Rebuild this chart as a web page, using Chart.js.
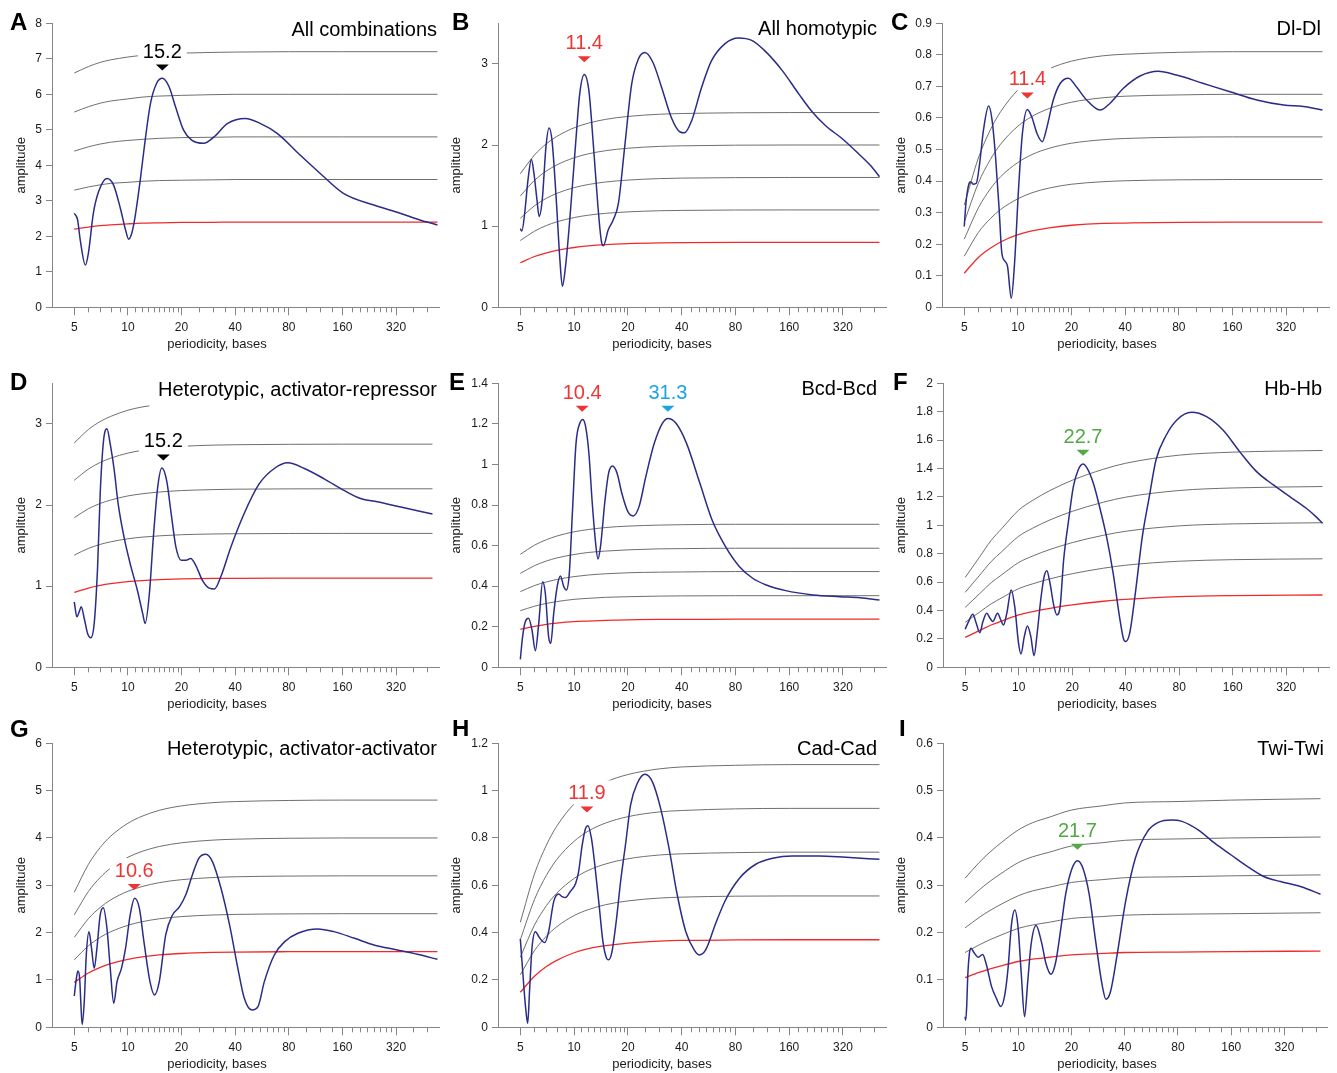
<!DOCTYPE html>
<html>
<head>
<meta charset="utf-8">
<title>Periodicity spectra</title>
<script src="https://cdn.jsdelivr.net/npm/chart.js@4.4.1/dist/chart.umd.min.js"></script>
<style>
  html, body { margin: 0; padding: 0; background: #fff; overflow: hidden; }
  #page { position: relative; width: 1337px; height: 1073px; }
  .panel { position: absolute; }
</style>
</head>
<body>
<div id="page"></div>
<script>
"use strict";

// ---------- data ----------
const xMajorTicks = [5, 10, 20, 40, 80, 160, 320];
const xMinorTicks = [6, 7, 8, 9, 11, 12, 13, 14, 15, 16, 17, 18, 19, 25, 30, 35,
    45, 50, 55, 60, 65, 70, 75, 100, 120, 140, 180, 200, 220, 240, 260, 280, 300, 400, 480];

const thresholdPeriods = [5, 6, 7, 8, 10, 12, 15, 20, 30, 40, 80, 160, 512];
const thresholdPeriodsLong = [5, 6, 7, 8, 10, 12, 15, 20, 30, 40, 80, 160, 546];
const topThresholdPeriodsD = [5, 6, 7, 8, 10, 12, 13.2];

// A - All combinations
const periodsA = [5, 5.22, 5.4, 5.77, 6.0, 6.4, 6.85, 7.63, 8.3, 9.07, 9.7, 10.1, 10.5, 10.9, 11.7, 12.5, 13.4, 14.5, 15.6, 17.0, 18.5, 20.5, 22.8, 26.6, 30.4, 36.3, 45.6, 55.2, 68.8, 92.5, 120, 162, 240, 337, 435, 546];
const ampsA = [2.65, 2.46, 1.9, 1.19, 1.52, 2.65, 3.26, 3.63, 3.45, 2.79, 2.18, 1.92, 2.08, 2.46, 3.54, 4.71, 5.75, 6.31, 6.45, 6.22, 5.65, 5.0, 4.71, 4.62, 4.8, 5.18, 5.32, 5.18, 4.9, 4.29, 3.77, 3.21, 2.88, 2.65, 2.46, 2.32];
const thresholdsA = [
    [2.20, 2.26, 2.30, 2.32, 2.35, 2.37, 2.38, 2.39, 2.395, 2.4, 2.4, 2.4, 2.4],
    [3.30, 3.39, 3.45, 3.49, 3.52, 3.55, 3.57, 3.58, 3.59, 3.6, 3.6, 3.6, 3.6],
    [4.40, 4.52, 4.60, 4.65, 4.70, 4.73, 4.76, 4.78, 4.79, 4.8, 4.8, 4.8, 4.8],
    [5.50, 5.65, 5.75, 5.81, 5.87, 5.92, 5.95, 5.97, 5.99, 6.0, 6.0, 6.0, 6.0],
    [6.60, 6.78, 6.90, 6.97, 7.05, 7.10, 7.14, 7.16, 7.18, 7.19, 7.2, 7.2, 7.2],
];
const marksA = [[15.6, "15.2", 6.67]];
const yTicksA = [0, 1, 2, 3, 4, 5, 6, 7, 8];

// B - All homotypic
const periodsB = [5, 5.1, 5.29, 5.52, 5.77, 5.96, 6.2, 6.37, 6.63, 6.96, 7.24, 7.52, 7.95, 8.33, 8.6, 8.95, 9.45, 10.2, 10.75, 11.4, 12.1, 12.8, 13.6, 14.2, 14.6, 15.5, 16.5, 17.7, 19.2, 21.0, 22.9, 24.9, 27.6, 30.9, 35.0, 39.2, 41.5, 45.5, 51.7, 58.8, 70.0, 83.1, 98.7, 117, 146, 181, 215, 255, 316, 392, 455, 512];
const ampsB = [0.97, 0.94, 1.16, 1.57, 1.82, 1.65, 1.32, 1.12, 1.32, 1.98, 2.21, 2.06, 1.32, 0.58, 0.26, 0.5, 1.07, 2.02, 2.63, 2.87, 2.67, 2.02, 1.24, 0.82, 0.76, 0.95, 1.07, 1.28, 1.98, 2.75, 3.06, 3.14, 3.02, 2.71, 2.34, 2.16, 2.15, 2.30, 2.71, 3.04, 3.25, 3.32, 3.29, 3.16, 2.92, 2.63, 2.41, 2.24, 2.08, 1.89, 1.75, 1.61];
const thresholdsB = [
    [0.549, 0.626, 0.672, 0.702, 0.737, 0.756, 0.772, 0.784, 0.793, 0.796, 0.799, 0.8, 0.8],
    [0.823, 0.938, 1.008, 1.053, 1.106, 1.135, 1.158, 1.176, 1.19, 1.194, 1.199, 1.2, 1.2],
    [1.098, 1.251, 1.344, 1.404, 1.475, 1.513, 1.544, 1.568, 1.586, 1.592, 1.598, 1.6, 1.6],
    [1.372, 1.564, 1.68, 1.755, 1.843, 1.891, 1.93, 1.96, 1.983, 1.99, 1.998, 2.0, 2.0],
    [1.646, 1.877, 2.016, 2.106, 2.212, 2.269, 2.316, 2.352, 2.379, 2.388, 2.397, 2.4, 2.4],
];
const marksB = [[11.4, "11.4", 3.02]];
const yTicksB = [0, 1, 2, 3];

// C - Dl-Dl
const periodsC = [5, 5.11, 5.29, 5.43, 5.63, 5.84, 6.1, 6.41, 6.85, 7.16, 7.49, 7.83, 8.13, 8.5, 8.75, 9.18, 9.55, 10.1, 10.6, 11.3, 11.95, 12.8, 13.7, 14.5, 15.8, 17.3, 19.2, 21.4, 24.3, 28.9, 32.8, 39.1, 48.5, 61.3, 77.7, 109, 155, 219, 310, 400, 512];
const ampsC = [0.256, 0.33, 0.388, 0.398, 0.39, 0.393, 0.456, 0.562, 0.638, 0.594, 0.477, 0.319, 0.171, 0.145, 0.129, 0.029, 0.129, 0.382, 0.551, 0.627, 0.604, 0.551, 0.525, 0.567, 0.657, 0.71, 0.726, 0.697, 0.657, 0.625, 0.646, 0.694, 0.733, 0.748, 0.736, 0.71, 0.683, 0.657, 0.641, 0.636, 0.625];
const thresholdsC = [
    [0.108, 0.158, 0.187, 0.207, 0.230, 0.242, 0.252, 0.260, 0.266, 0.267, 0.269, 0.27, 0.27],
    [0.162, 0.237, 0.281, 0.310, 0.344, 0.363, 0.378, 0.390, 0.398, 0.401, 0.404, 0.405, 0.405],
    [0.216, 0.315, 0.375, 0.414, 0.459, 0.484, 0.504, 0.520, 0.531, 0.535, 0.539, 0.54, 0.54],
    [0.27, 0.394, 0.468, 0.517, 0.574, 0.605, 0.630, 0.650, 0.664, 0.669, 0.673, 0.675, 0.675],
    [0.324, 0.473, 0.562, 0.620, 0.689, 0.726, 0.756, 0.780, 0.797, 0.802, 0.808, 0.81, 0.81],
];
const marksC = [[11.3, "11.4", 0.662]];
const yTicksC = [0, 0.1, 0.2, 0.3, 0.4, 0.5, 0.6, 0.7, 0.8, 0.9];

// D - Heterotypic, activator-repressor
const periodsD = [5, 5.17, 5.33, 5.47, 5.69, 5.94, 6.2, 6.47, 6.76, 6.99, 7.3, 7.63, 7.96, 8.38, 8.81, 9.5, 10.4, 11.3, 12.1, 12.5, 13.2, 13.9, 14.7, 15.5, 16.5, 17.5, 18.6, 19.9, 21.2, 22.5, 24, 26.2, 28.6, 30.6, 33.2, 37.8, 44.8, 54.5, 66.3, 78.9, 97.8, 127, 163, 202, 251, 340, 512];
const ampsD = [0.807, 0.623, 0.684, 0.746, 0.602, 0.418, 0.365, 0.541, 1.238, 2.14, 2.795, 2.94, 2.75, 2.43, 2.02, 1.61, 1.24, 0.95, 0.664, 0.541, 0.91, 1.61, 2.22, 2.455, 2.30, 1.89, 1.48, 1.32, 1.32, 1.34, 1.26, 1.07, 0.975, 0.965, 1.115, 1.48, 1.89, 2.26, 2.45, 2.52, 2.45, 2.32, 2.18, 2.08, 2.04, 1.975, 1.89];
const thresholdsD = [
    [0.922, 0.977, 1.01, 1.031, 1.056, 1.069, 1.08, 1.089, 1.095, 1.097, 1.099, 1.1, 1.1],
    [1.383, 1.465, 1.515, 1.546, 1.584, 1.604, 1.62, 1.634, 1.643, 1.646, 1.649, 1.65, 1.65],
    [1.844, 1.954, 2.02, 2.061, 2.112, 2.138, 2.16, 2.178, 2.19, 2.195, 2.199, 2.2, 2.2],
    [2.305, 2.442, 2.525, 2.577, 2.64, 2.673, 2.70, 2.723, 2.738, 2.743, 2.748, 2.75, 2.75],
];
const topThresholdD = [2.765, 2.93, 3.03, 3.092, 3.168, 3.208, 3.222];
const marksD = [[15.8, "15.2", 2.55]];
const yTicksD = [0, 1, 2, 3];

// E - Bcd-Bcd
const periodsE = [5, 5.15, 5.33, 5.56, 5.81, 6.07, 6.34, 6.67, 6.9, 7.2, 7.4, 7.69, 8.04, 8.38, 8.75, 9.05, 9.4, 9.8, 10.25, 10.85, 11.2, 11.6, 12.1, 12.6, 13.2, 13.6, 14.05, 14.9, 15.6, 16.4, 17.4, 18.5, 20, 21.4, 23.1, 25.2, 28.1, 31.2, 33.6, 37.2, 42.6, 50.6, 59.2, 70.4, 84.3, 99.9, 119, 153, 217, 307, 398, 512];
const ampsE = [0.039, 0.151, 0.225, 0.242, 0.184, 0.082, 0.217, 0.422, 0.365, 0.151, 0.118, 0.266, 0.398, 0.45, 0.398, 0.381, 0.463, 0.776, 1.104, 1.21, 1.222, 1.186, 1.055, 0.825, 0.611, 0.534, 0.595, 0.825, 0.957, 0.992, 0.957, 0.858, 0.767, 0.746, 0.792, 0.94, 1.104, 1.203, 1.227, 1.203, 1.104, 0.907, 0.726, 0.595, 0.496, 0.439, 0.406, 0.378, 0.357, 0.348, 0.343, 0.332];
const thresholdsE = [
    [0.187, 0.202, 0.212, 0.218, 0.225, 0.228, 0.231, 0.234, 0.236, 0.236, 0.237, 0.237, 0.237],
    [0.279, 0.301, 0.315, 0.324, 0.335, 0.340, 0.345, 0.348, 0.351, 0.352, 0.353, 0.353, 0.353],
    [0.373, 0.403, 0.421, 0.433, 0.447, 0.455, 0.461, 0.466, 0.469, 0.47, 0.472, 0.472, 0.472],
    [0.463, 0.501, 0.524, 0.539, 0.556, 0.566, 0.573, 0.579, 0.584, 0.585, 0.587, 0.587, 0.587],
    [0.557, 0.602, 0.629, 0.647, 0.668, 0.679, 0.689, 0.696, 0.701, 0.703, 0.705, 0.705, 0.705],
];
const marksE = [[11.1, "10.4", 1.26], [33.5, "31.3", 1.26]];
const yTicksE = [0, 0.2, 0.4, 0.6, 0.8, 1, 1.2, 1.4];

// F - Hb-Hb
const periodsF = [5, 5.22, 5.52, 5.77, 6.04, 6.29, 6.6, 6.9, 7.15, 7.6, 7.93, 8.2, 8.57, 9.07, 9.5, 9.98, 10.3, 10.75, 11.2, 11.7, 12.2, 12.7, 13.3, 13.9, 14.4, 15.0, 15.8, 16.4, 17.1, 17.9, 19.1, 20.3, 21.6, 23.0, 24.3, 26.3, 28.5, 31.2, 34.0, 36.9, 38.8, 39.9, 42.1, 45.3, 49.6, 54.3, 59.2, 67.7, 77.6, 93.9, 114, 141, 175, 218, 271, 335, 415, 470, 512];
const ampsF = [0.268, 0.322, 0.373, 0.31, 0.244, 0.322, 0.38, 0.345, 0.322, 0.38, 0.333, 0.298, 0.38, 0.545, 0.427, 0.169, 0.094, 0.216, 0.291, 0.216, 0.082, 0.239, 0.474, 0.638, 0.68, 0.592, 0.427, 0.369, 0.427, 0.756, 1.038, 1.272, 1.39, 1.432, 1.401, 1.296, 1.131, 0.92, 0.662, 0.357, 0.204, 0.181, 0.239, 0.521, 0.92, 1.202, 1.46, 1.636, 1.742, 1.796, 1.765, 1.671, 1.519, 1.378, 1.284, 1.202, 1.12, 1.061, 1.014];
const thresholdsF = [
    [0.211, 0.258, 0.298, 0.325, 0.369, 0.392, 0.415, 0.439, 0.465, 0.479, 0.498, 0.505, 0.509],
    [0.317, 0.387, 0.447, 0.488, 0.554, 0.588, 0.623, 0.659, 0.698, 0.719, 0.747, 0.758, 0.764],
    [0.422, 0.516, 0.596, 0.65, 0.738, 0.784, 0.83, 0.878, 0.93, 0.958, 0.996, 1.01, 1.018],
    [0.528, 0.645, 0.745, 0.813, 0.923, 0.98, 1.038, 1.098, 1.163, 1.198, 1.245, 1.263, 1.273],
    [0.633, 0.774, 0.894, 0.975, 1.107, 1.176, 1.245, 1.317, 1.395, 1.437, 1.494, 1.515, 1.527],
];
const marksF = [[23.0, "22.7", 1.49]];
const yTicksF = [0, 0.2, 0.4, 0.6, 0.8, 1, 1.2, 1.4, 1.6, 1.8, 2];

// G - Heterotypic, activator-activator
const periodsG = [5, 5.11, 5.24, 5.36, 5.45, 5.54, 5.69, 5.84, 6.05, 6.25, 6.47, 6.7, 6.99, 7.27, 7.63, 7.96, 8.33, 8.69, 9.2, 9.7, 10.3, 10.9, 11.6, 12.3, 13.3, 14.1, 15.0, 16.3, 17.8, 19.5, 21.1, 23.0, 25.0, 27.4, 29.8, 33.3, 37.2, 41.4, 45.0, 49.6, 53.7, 58.3, 66.3, 75.9, 89.9, 116, 143, 187, 240, 325, 421, 546];
const ampsG = [0.662, 0.965, 1.19, 1.035, 0.472, 0.06, 0.542, 1.528, 2.02, 1.669, 1.246, 1.669, 2.373, 2.528, 2.09, 1.246, 0.507, 0.965, 1.246, 1.669, 2.373, 2.725, 2.514, 1.81, 0.965, 0.683, 0.965, 1.951, 2.373, 2.549, 2.796, 3.218, 3.57, 3.655, 3.5, 2.937, 2.162, 1.246, 0.613, 0.366, 0.437, 0.965, 1.528, 1.81, 1.986, 2.077, 2.021, 1.88, 1.739, 1.634, 1.542, 1.437];
const thresholdsG = [
    [0.95, 1.147, 1.267, 1.346, 1.437, 1.487, 1.528, 1.559, 1.582, 1.59, 1.597, 1.6, 1.6],
    [1.426, 1.721, 1.901, 2.018, 2.155, 2.23, 2.292, 2.339, 2.373, 2.385, 2.396, 2.4, 2.4],
    [1.901, 2.294, 2.534, 2.691, 2.874, 2.973, 3.056, 3.119, 3.164, 3.18, 3.195, 3.2, 3.2],
    [2.376, 2.868, 3.168, 3.364, 3.592, 3.716, 3.82, 3.898, 3.955, 3.974, 3.994, 4.0, 4.0],
    [2.851, 3.441, 3.802, 4.037, 4.31, 4.459, 4.584, 4.678, 4.746, 4.769, 4.792, 4.8, 4.8],
];
const marksG = [[10.85, "10.6", 2.90]];
const yTicksG = [0, 1, 2, 3, 4, 5, 6];

// H - Cad-Cad
const periodsH = [5, 5.11, 5.24, 5.38, 5.5, 5.63, 5.81, 6.07, 6.39, 6.85, 7.2, 7.69, 8.2, 8.57, 8.95, 9.5, 10.2, 10.6, 11.1, 11.6, 11.95, 12.5, 13.0, 13.8, 14.5, 15.2, 15.6, 16.3, 17.2, 18.2, 19.5, 20.7, 22.6, 24.9, 27.4, 30.5, 34.0, 37.8, 42.2, 47.0, 50.1, 54.5, 62.0, 70.4, 84.3, 104, 129, 166, 236, 333, 512];
const ampsH = [0.373, 0.277, 0.165, 0.066, 0.017, 0.151, 0.334, 0.404, 0.379, 0.358, 0.404, 0.531, 0.563, 0.552, 0.548, 0.573, 0.608, 0.658, 0.77, 0.841, 0.852, 0.799, 0.7, 0.517, 0.362, 0.292, 0.285, 0.32, 0.446, 0.615, 0.785, 0.939, 1.031, 1.069, 1.038, 0.925, 0.756, 0.559, 0.404, 0.327, 0.306, 0.327, 0.439, 0.538, 0.63, 0.689, 0.714, 0.724, 0.724, 0.718, 0.71];
const thresholdsH = [
    [0.148, 0.216, 0.257, 0.283, 0.315, 0.332, 0.345, 0.356, 0.364, 0.367, 0.369, 0.37, 0.37],
    [0.222, 0.324, 0.385, 0.425, 0.472, 0.497, 0.518, 0.534, 0.546, 0.55, 0.554, 0.555, 0.555],
    [0.296, 0.432, 0.514, 0.567, 0.629, 0.663, 0.69, 0.712, 0.728, 0.733, 0.738, 0.74, 0.74],
    [0.37, 0.54, 0.642, 0.709, 0.786, 0.829, 0.863, 0.89, 0.91, 0.916, 0.923, 0.925, 0.925],
    [0.444, 0.648, 0.77, 0.85, 0.944, 0.995, 1.036, 1.068, 1.092, 1.1, 1.107, 1.11, 1.11],
];
const marksH = [[11.8, "11.9", 0.908]];
const yTicksH = [0, 0.2, 0.4, 0.6, 0.8, 1, 1.2];

// I - Twi-Twi
const periodsI = [5, 5.04, 5.11, 5.17, 5.29, 5.4, 5.61, 5.94, 6.29, 6.6, 7.06, 7.52, 7.96, 8.38, 8.75, 9.14, 9.55, 9.98, 10.4, 10.85, 11.3, 11.8, 12.6, 13.5, 14.4, 15.3, 16.3, 17.4, 18.5, 20.1, 21.6, 23.2, 25.2, 27.4, 29.8, 31.3, 33.2, 36.2, 40.4, 45.9, 53.6, 62.0, 73.8, 84.3, 104, 129, 160, 199, 246, 304, 398, 512];
const ampsI = [0.0225, 0.015, 0.047, 0.104, 0.156, 0.167, 0.158, 0.148, 0.154, 0.132, 0.086, 0.061, 0.044, 0.068, 0.125, 0.216, 0.248, 0.209, 0.111, 0.0225, 0.096, 0.174, 0.215, 0.181, 0.132, 0.112, 0.139, 0.209, 0.28, 0.335, 0.352, 0.336, 0.28, 0.181, 0.089, 0.059, 0.075, 0.153, 0.265, 0.357, 0.413, 0.433, 0.438, 0.435, 0.417, 0.389, 0.364, 0.339, 0.318, 0.308, 0.297, 0.281];
const thresholdsI = [
    [0.105, 0.116, 0.124, 0.130, 0.139, 0.144, 0.148, 0.153, 0.156, 0.158, 0.159, 0.16, 0.161],
    [0.158, 0.174, 0.186, 0.195, 0.209, 0.216, 0.222, 0.23, 0.234, 0.237, 0.239, 0.24, 0.242],
    [0.21, 0.232, 0.248, 0.26, 0.278, 0.288, 0.296, 0.306, 0.312, 0.316, 0.318, 0.32, 0.322],
    [0.263, 0.29, 0.31, 0.325, 0.348, 0.36, 0.37, 0.383, 0.39, 0.395, 0.398, 0.40, 0.402],
    [0.315, 0.348, 0.372, 0.39, 0.417, 0.432, 0.444, 0.459, 0.468, 0.474, 0.477, 0.48, 0.483],
];
const marksI = [[21.6, "21.7", 0.375]];
const yTicksI = [0, 0.1, 0.2, 0.3, 0.4, 0.5, 0.6];

// ---------- styles ----------
const FONT = '"Liberation Sans", Arial, Helvetica, sans-serif';
const BLUE = "#2b2b88";
const RED = "#f02a2a";
const GREY = "#5f5f5f";
const AXIS = "#858585";
const TEXT = "#1a1a1a";
const MARK_RED = "#ee3535";
const MARK_CYAN = "#1ba3e3";
const MARK_GREEN = "#52a845";

const X_MIN = 3.75;
const X_MAX = 557;
const PLOT_TOP = 23.3;
const PLOT_BOTTOM = 307.3;
const CANVAS_H = 360;

const panels = [
    { letter: "A", title: "All combinations", periods: periodsA, amps: ampsA, thrPeriods: thresholdPeriodsLong, thresholds: thresholdsA, yMax: 8, yTicks: yTicksA, marks: marksA, markColors: ["#000"],
      left: 0, top: 0, width: 445, plotLeft: 52, plotRight: 439, yTitleX: 21.7, titleRight: 437, titleBase: 36, letterX: 10, letterBase: 30 },
    { letter: "B", title: "All homotypic", periods: periodsB, amps: ampsB, thrPeriods: thresholdPeriods, thresholds: thresholdsB, yMax: 3.5, yTicks: yTicksB, marks: marksB, markColors: [MARK_RED],
      left: 445, top: 0, width: 445, plotLeft: 53, plotRight: 441, yTitleX: 11.7, titleRight: 432, titleBase: 35, letterX: 7, letterBase: 30 },
    { letter: "C", title: "Dl-Dl", periods: periodsC, amps: ampsC, thrPeriods: thresholdPeriods, thresholds: thresholdsC, yMax: 0.9, yTicks: yTicksC, marks: marksC, markColors: [MARK_RED],
      left: 890, top: 0, width: 447, plotLeft: 52, plotRight: 439, yTitleX: 11.7, titleRight: 431, titleBase: 35, letterX: 1, letterBase: 30 },
    { letter: "D", title: "Heterotypic, activator-repressor", periods: periodsD, amps: ampsD, thrPeriods: thresholdPeriods, thresholds: thresholdsD, yMax: 3.5, yTicks: yTicksD, marks: marksD, markColors: ["#000"],
      extraLine: { periods: topThresholdPeriodsD, values: topThresholdD },
      left: 0, top: 360, width: 445, plotLeft: 52, plotRight: 439, yTitleX: 21.7, titleRight: 437, titleBase: 36, letterX: 10, letterBase: 29.5 },
    { letter: "E", title: "Bcd-Bcd", periods: periodsE, amps: ampsE, thrPeriods: thresholdPeriods, thresholds: thresholdsE, yMax: 1.4, yTicks: yTicksE, marks: marksE, markColors: [MARK_RED, MARK_CYAN],
      left: 445, top: 360, width: 445, plotLeft: 53, plotRight: 441, yTitleX: 11.7, titleRight: 432, titleBase: 35, letterX: 4, letterBase: 29.5 },
    { letter: "F", title: "Hb-Hb", periods: periodsF, amps: ampsF, thrPeriods: thresholdPeriods, thresholds: thresholdsF, yMax: 2, yTicks: yTicksF, marks: marksF, markColors: [MARK_GREEN],
      left: 890, top: 360, width: 447, plotLeft: 53, plotRight: 439, yTitleX: 11.7, titleRight: 432, titleBase: 35, letterX: 3, letterBase: 29.5 },
    { letter: "G", title: "Heterotypic, activator-activator", periods: periodsG, amps: ampsG, thrPeriods: thresholdPeriodsLong, thresholds: thresholdsG, yMax: 6, yTicks: yTicksG, marks: marksG, markColors: [MARK_RED],
      left: 0, top: 720, width: 445, plotLeft: 52, plotRight: 439, yTitleX: 21.7, titleRight: 437, titleBase: 35, letterX: 10, letterBase: 16.5 },
    { letter: "H", title: "Cad-Cad", periods: periodsH, amps: ampsH, thrPeriods: thresholdPeriods, thresholds: thresholdsH, yMax: 1.2, yTicks: yTicksH, marks: marksH, markColors: [MARK_RED],
      left: 445, top: 720, width: 445, plotLeft: 53, plotRight: 441, yTitleX: 11.7, titleRight: 432, titleBase: 35, letterX: 7, letterBase: 16 },
    { letter: "I", title: "Twi-Twi", periods: periodsI, amps: ampsI, thrPeriods: thresholdPeriods, thresholds: thresholdsI, yMax: 0.6, yTicks: yTicksI, marks: marksI, markColors: [MARK_GREEN],
      left: 890, top: 720, width: 447, plotLeft: 53, plotRight: 437, yTitleX: 11.7, titleRight: 434, titleBase: 35, letterX: 9, letterBase: 15.5 },
];

function toPoints(xs, ys) {
    return ys.map((y, i) => ({ x: xs[i], y: y }));
}

// draws peak markers, minor ticks, axis titles, panel title and letter
function decorPlugin(p) {
    return {
        id: "decor" + p.letter,
        afterDatasetsDraw(chart) {
            const ctx = chart.ctx, xs = chart.scales.x, ys = chart.scales.y;
            ctx.save();
            ctx.font = "20px " + FONT;
            ctx.textAlign = "center";
            ctx.textBaseline = "alphabetic";
            p.marks.forEach((m, i) => {
                const px = xs.getPixelForValue(m[0]);
                const tip = ys.getPixelForValue(m[2]);
                const base = tip - 6 - 7;
                const w = ctx.measureText(m[1]).width;
                ctx.fillStyle = "#fff";
                ctx.fillRect(px - w / 2 - 5, base - 19, w + 10, 24);
                ctx.fillStyle = p.markColors[i];
                ctx.fillText(m[1], px, base);
                ctx.beginPath();
                ctx.moveTo(px - 6.5, tip - 6);
                ctx.lineTo(px + 6.5, tip - 6);
                ctx.lineTo(px, tip);
                ctx.closePath();
                ctx.fill();
            });
            ctx.restore();
        },
        afterDraw(chart) {
            const ctx = chart.ctx, xs = chart.scales.x, area = chart.chartArea;
            ctx.save();
            // minor ticks
            ctx.strokeStyle = AXIS;
            ctx.lineWidth = 1;
            ctx.beginPath();
            xMinorTicks.forEach(v => {
                const px = Math.round(xs.getPixelForValue(v)) + 0.5;
                ctx.moveTo(px, area.bottom);
                ctx.lineTo(px, area.bottom + 5);
            });
            ctx.stroke();
            // axis titles
            ctx.fillStyle = TEXT;
            ctx.font = "13px " + FONT;
            ctx.textAlign = "center";
            ctx.textBaseline = "middle";
            ctx.fillText("periodicity, bases", 217, 344.3);
            ctx.save();
            ctx.translate(p.yTitleX, (area.top + area.bottom) / 2);
            ctx.rotate(-Math.PI / 2);
            ctx.fillText("amplitude", 0, 0);
            ctx.restore();
            // panel title
            ctx.textBaseline = "alphabetic";
            ctx.textAlign = "right";
            ctx.font = "20px " + FONT;
            ctx.fillStyle = "#000";
            ctx.fillText(p.title, p.titleRight, p.titleBase);
            // panel letter
            ctx.textAlign = "left";
            ctx.font = "bold 24px " + FONT;
            ctx.fillText(p.letter, p.letterX, p.letterBase);
            ctx.restore();
        },
    };
}

const page = document.getElementById("page");

panels.forEach(p => {
    const wrap = document.createElement("div");
    wrap.className = "panel";
    wrap.style.left = p.left + "px";
    wrap.style.top = p.top + "px";
    wrap.style.width = p.width + "px";
    wrap.style.height = CANVAS_H + "px";
    const canvas = document.createElement("canvas");
    canvas.width = p.width;
    canvas.height = CANVAS_H;
    canvas.style.width = p.width + "px";
    canvas.style.height = CANVAS_H + "px";
    wrap.appendChild(canvas);
    page.appendChild(wrap);

    // first dataset is drawn on top
    const datasets = [
        { data: toPoints(p.periods, p.amps), borderColor: BLUE, borderWidth: 1.5 },
    ];
    p.thresholds.forEach((vals, i) => {
        datasets.push({
            data: toPoints(p.thrPeriods, vals),
            borderColor: i === 0 ? RED : GREY,
            borderWidth: i === 0 ? 1.3 : 0.9,
        });
    });
    if (p.extraLine) {
        datasets.push({ data: toPoints(p.extraLine.periods, p.extraLine.values), borderColor: GREY, borderWidth: 0.9 });
    }

    new Chart(canvas, {
        type: "line",
        data: { datasets: datasets },
        options: {
            responsive: false,
            animation: false,
            events: [],
            layout: { padding: { top: PLOT_TOP, right: p.width - p.plotRight, left: 0, bottom: 0 } },
            elements: {
                point: { radius: 0 },
                line: { cubicInterpolationMode: "monotone", fill: false },
            },
            plugins: { legend: { display: false }, tooltip: { enabled: false } },
            scales: {
                x: {
                    type: "logarithmic",
                    min: X_MIN,
                    max: X_MAX,
                    afterBuildTicks: s => { s.ticks = xMajorTicks.map(v => ({ value: v })); },
                    afterFit: s => { s.height = CANVAS_H - PLOT_BOTTOM; },
                    ticks: {
                        autoSkip: false, maxRotation: 0, padding: 5, color: TEXT,
                        font: { family: FONT, size: 12 },
                        callback: v => String(v),
                    },
                    grid: { drawOnChartArea: false, drawTicks: true, tickLength: 8, color: AXIS, lineWidth: 1 },
                    border: { display: true, color: AXIS, width: 1 },
                    title: { display: false },
                },
                y: {
                    type: "linear",
                    min: 0,
                    max: p.yMax,
                    afterBuildTicks: s => { s.ticks = p.yTicks.map(v => ({ value: v })); },
                    afterFit: s => { s.width = p.plotLeft; },
                    ticks: {
                        padding: 4, color: TEXT,
                        font: { family: FONT, size: 12 },
                        callback: v => String(v),
                    },
                    grid: { drawOnChartArea: false, drawTicks: true, tickLength: 6, color: AXIS, lineWidth: 1 },
                    border: { display: true, color: AXIS, width: 1 },
                    title: { display: false },
                },
            },
        },
        plugins: [decorPlugin(p)],
    });
});
</script>
</body>
</html>
